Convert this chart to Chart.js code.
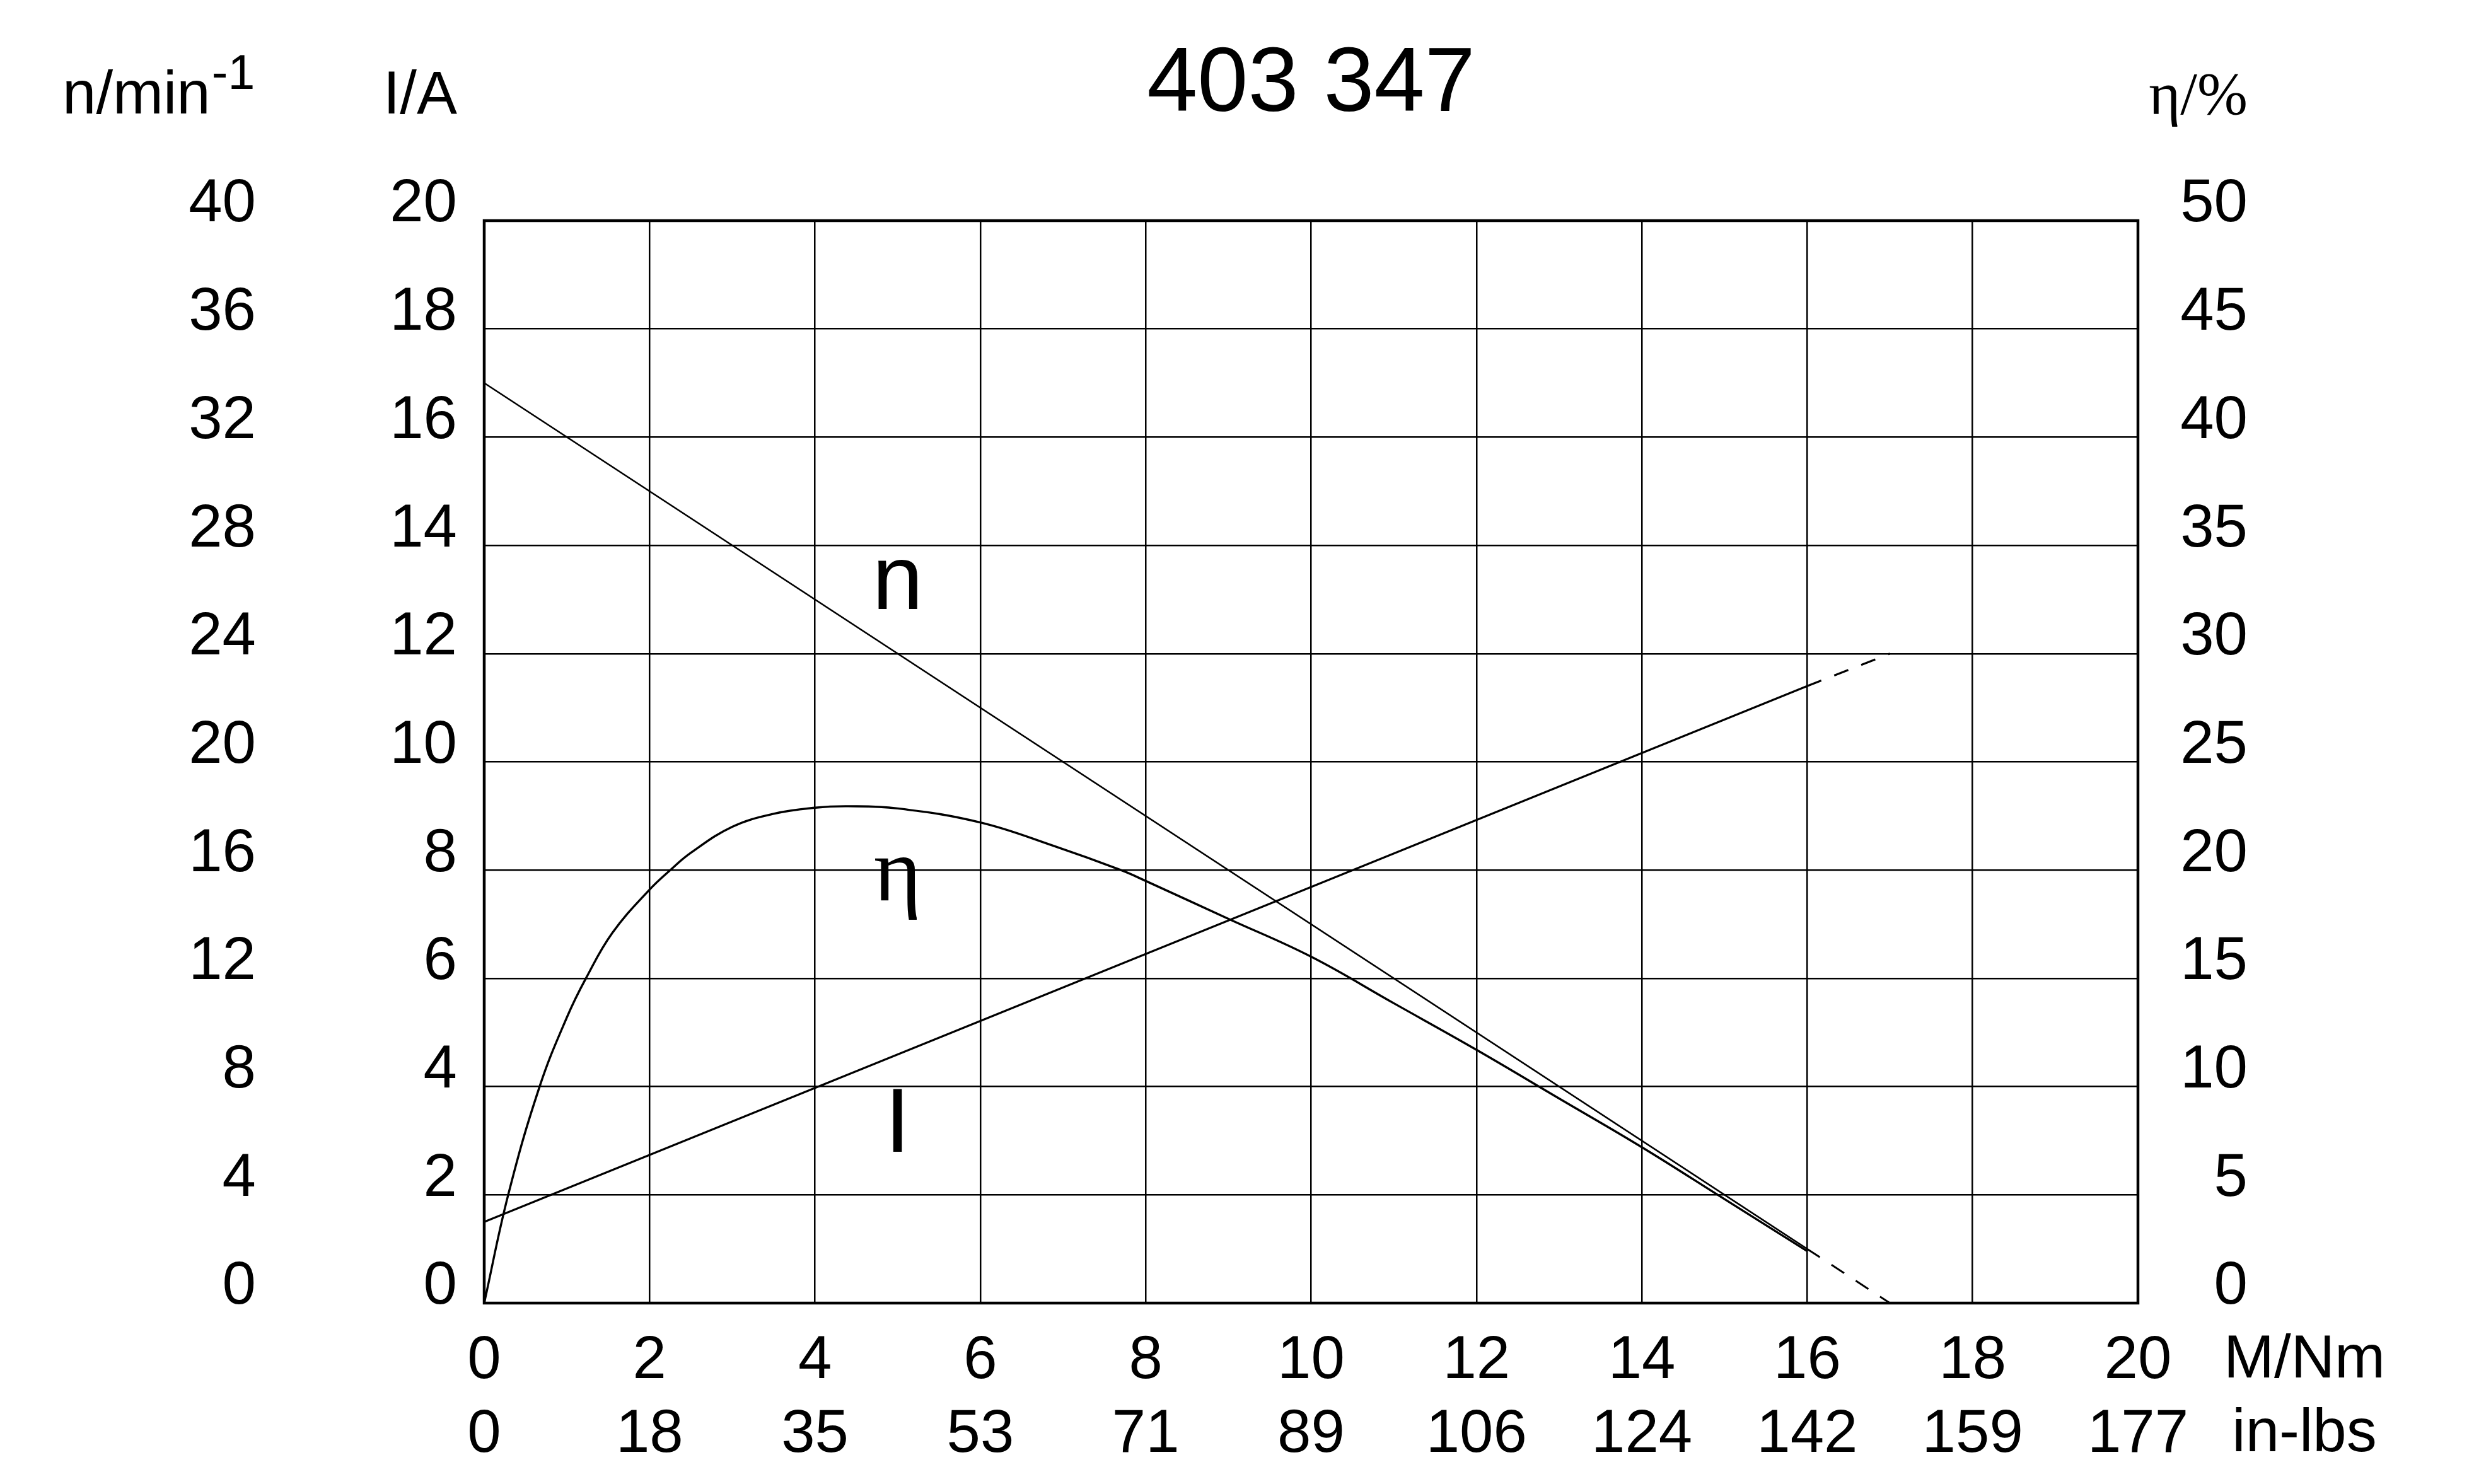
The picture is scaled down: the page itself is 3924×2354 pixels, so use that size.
<!DOCTYPE html>
<html>
<head>
<meta charset="utf-8">
<script src="https://cdn.jsdelivr.net/npm/chart.js@4.4.1/dist/chart.umd.min.js"></script>
<style>
html,body{margin:0;padding:0;background:#fff;}
canvas{display:block;}
</style>
</head>
<body>
<canvas id="c" width="3924" height="2354"></canvas>
<script>
// ---------- data ----------
const chartTitle = '403 347';

// torque axis (M / Nm) and its second label row (in-lbs)
const torqueTicksNm = [0, 2, 4, 6, 8, 10, 12, 14, 16, 18, 20];
const torqueTicksInLbs = [0, 18, 35, 53, 71, 89, 106, 124, 142, 159, 177];

// speed n / min^-1
const speedTorque = [0, 16];
const speedValues = [34, 2];
const speedDashTorque = [16, 17];
const speedDashValues = [2, 0];

// current I / A
const currentTorque = [0, 16];
const currentValues = [1.5, 11.4];
const currentDashTorque = [16, 17];
const currentDashValues = [11.4, 12.0];

// efficiency eta / %
const effTorque = [0, 0.29, 0.67, 1.0, 1.23, 1.55, 2.0, 2.25, 2.5, 3.0, 3.5, 4.0, 4.4, 5.0, 6.0, 6.9, 7.7, 8.0, 9.0, 10, 11, 12, 13, 14, 15, 16];
const effValues = [0, 5.0, 10.0, 13.2, 15.0, 17.1, 19.1, 20.0, 20.8, 22.0, 22.6, 22.88, 22.95, 22.85, 22.2, 21.1, 20.0, 19.5, 17.75, 16.0, 13.85, 11.7, 9.45, 7.2, 4.8, 2.4];

// curve labels (anchored in data units: torque, current-axis value of baseline)
const curveLabelText = ['n', 'η', 'I'];
const curveLabelTorque = [5, 5, 5];
const curveLabelCurrent = [12.82, 7.44, 2.80];

// axis titles
const speedAxisTitle = 'n/min';
const speedAxisSup = '-1';
const currentAxisTitle = 'I/A';
const effAxisTitle = 'η/%';
const torqueUnitNm = 'M/Nm';
const torqueUnitInLbs = 'in-lbs';

// ---------- helpers ----------
const zip = (xs, ys) => xs.map((x, i) => ({x: x, y: ys[i]}));
const SANS = "'Liberation Sans', Arial, Helvetica, sans-serif";
const SERIF = "'Liberation Serif', 'Times New Roman', serif";

Chart.defaults.font.family = SANS;
Chart.defaults.color = '#000';

const lineBase = {
  borderColor: '#000',
  backgroundColor: '#000',
  pointRadius: 0,
  pointHoverRadius: 0,
  fill: false
};

const decor = {
  id: 'decor',
  beforeDraw(chart) {
    const ctx = chart.ctx;
    ctx.save();
    ctx.globalCompositeOperation = 'destination-over';
    ctx.fillStyle = '#fff';
    ctx.fillRect(0, 0, chart.width, chart.height);
    ctx.restore();
  },
  beforeDatasetsDraw(chart) {
    const a = chart.chartArea, ctx = chart.ctx;
    ctx.save();
    ctx.strokeStyle = '#000';
    ctx.lineWidth = 4.5;
    ctx.strokeRect(a.left, a.top, a.right - a.left, a.bottom - a.top);
    ctx.restore();
  },
  afterDraw(chart) {
    const ctx = chart.ctx, a = chart.chartArea;
    const sx = chart.scales.x, sI = chart.scales.yI;
    ctx.save();
    ctx.fillStyle = '#000';
    ctx.textBaseline = 'alphabetic';

    // axis titles
    ctx.font = '96px ' + SANS;
    ctx.textAlign = 'left';
    ctx.fillText(speedAxisTitle, 99, 180);
    const w = ctx.measureText(speedAxisTitle).width;
    ctx.font = '77px ' + SANS;
    ctx.fillText(speedAxisSup, 99 + w + 2, 141);

    ctx.font = '96px ' + SANS;
    ctx.textAlign = 'right';
    ctx.fillText(currentAxisTitle, 725, 180);

    ctx.font = '96px ' + SERIF;
    ctx.textAlign = 'right';
    ctx.fillText(effAxisTitle, 3565, 181);

    // torque units
    ctx.font = '96px ' + SANS;
    ctx.textAlign = 'center';
    ctx.textBaseline = 'middle';
    ctx.fillText(torqueUnitNm, a.right + 264, sx.top + 92);
    ctx.fillText(torqueUnitInLbs, a.right + 264, sx.top + 209);

    // curve labels
    ctx.textBaseline = 'alphabetic';
    ctx.textAlign = 'center';
    for (let i = 0; i < curveLabelText.length; i++) {
      const t = curveLabelText[i];
      ctx.font = '145px ' + (t === 'η' ? SERIF : SANS);
      ctx.fillText(t, sx.getPixelForValue(curveLabelTorque[i]), sI.getPixelForValue(curveLabelCurrent[i]));
    }
    ctx.restore();
  }
};

new Chart(document.getElementById('c'), {
  type: 'line',
  data: {
    datasets: [
      Object.assign({}, lineBase, {label: 'n', data: zip(speedTorque, speedValues), yAxisID: 'yN', borderWidth: 2.6}),
      Object.assign({}, lineBase, {label: 'n dashed', data: zip(speedDashTorque, speedDashValues), yAxisID: 'yN', borderWidth: 3, borderDash: [24, 22]}),
      Object.assign({}, lineBase, {label: 'I', data: zip(currentTorque, currentValues), yAxisID: 'yI', borderWidth: 3.2}),
      Object.assign({}, lineBase, {label: 'I dashed', data: zip(currentDashTorque, currentDashValues), yAxisID: 'yI', borderWidth: 3.2, borderDash: [24, 22]}),
      Object.assign({}, lineBase, {label: 'η', data: zip(effTorque, effValues), yAxisID: 'yE', borderWidth: 3.4, tension: 0.4})
    ]
  },
  options: {
    responsive: false,
    animation: false,
    devicePixelRatio: 1,
    events: [],
    layout: {padding: {left: 0, right: 359, top: 0, bottom: 0}},
    plugins: {
      legend: {display: false},
      tooltip: {enabled: false},
      title: {
        display: true,
        text: chartTitle,
        fullSize: false,
        color: '#000',
        font: {size: 144, family: SANS, weight: 'normal', lineHeight: 1},
        padding: {top: 64, bottom: 142}
      }
    },
    scales: {
      x: {
        type: 'linear',
        position: 'bottom',
        min: 0, max: 20,
        afterFit(s) { s.height = 287; },
        grid: {display: true, color: '#000', lineWidth: 2.5, drawTicks: false, tickLength: 0},
        border: {display: false},
        ticks: {
          stepSize: 2,
          autoSkip: false,
          maxRotation: 0,
          padding: 34,
          color: '#000',
          font: {size: 96, family: SANS, lineHeight: 1.21875},
          callback(v) {
            const i = torqueTicksNm.indexOf(v);
            return i < 0 ? '' : [String(torqueTicksNm[i]), String(torqueTicksInLbs[i])];
          }
        }
      },
      yN: {
        type: 'linear',
        position: 'left',
        weight: 2,
        min: 0, max: 40,
        afterFit(s) { s.width = 446; },
        grid: {display: false, drawTicks: false, tickLength: 0},
        border: {display: false},
        ticks: {stepSize: 4, padding: 40, labelOffset: -25, color: '#000', font: {size: 96, family: SANS}}
      },
      yI: {
        type: 'linear',
        position: 'left',
        weight: 1,
        min: 0, max: 20,
        afterFit(s) { s.width = 322; },
        grid: {display: true, color: '#000', lineWidth: 2.5, drawTicks: false, tickLength: 0},
        border: {display: false},
        ticks: {stepSize: 2, padding: 43, labelOffset: -25, color: '#000', font: {size: 96, family: SANS}}
      },
      yE: {
        type: 'linear',
        position: 'right',
        min: 0, max: 50,
        afterFit(s) { s.width = 174; },
        grid: {display: false, drawOnChartArea: false, drawTicks: false, tickLength: 0},
        border: {display: false},
        ticks: {stepSize: 5, padding: 0, crossAlign: 'far', labelOffset: -25, color: '#000', font: {size: 96, family: SANS}}
      }
    }
  },
  plugins: [decor]
});
</script>
</body>
</html>
